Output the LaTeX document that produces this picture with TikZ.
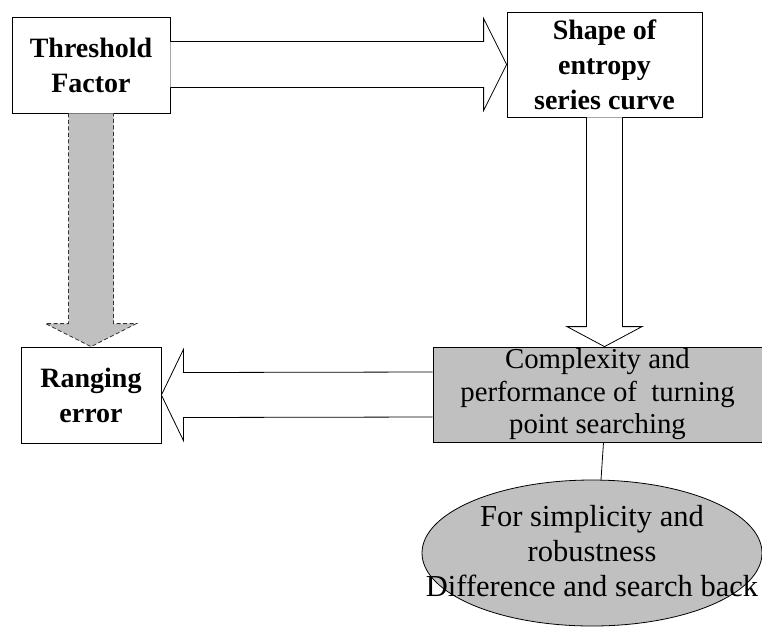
\documentclass[tikz,border=0pt]{standalone}
\usepackage{fontspec}
\setmainfont{Liberation Serif}
\usetikzlibrary{calc, shapes.geometric}
\definecolor{boxgray}{RGB}{192,192,192}

\begin{document}
\begin{tikzpicture}[
        x=1pt, y=-1pt, % pixel-like units, y grows downwards
        line width=0.8pt,
        box/.style={draw, fill=white, align=center, inner sep=0pt, font=\fontsize{28}{35}\selectfont\bfseries},
        greybox/.style={draw, fill=boxgray, align=center, inner sep=0pt, font=\fontsize{28.8}{32.5}\selectfont},
        fatarrow/.style={draw, fill=white, line join=miter},
        dasharrow/.style={draw=black!80, dash pattern=on 4pt off 2.5pt, fill=boxgray}
      ]
      \useasboundingbox (0,0) rectangle (762,633);

      % Nodes
      \node (thr) [box, minimum width=158pt, minimum height=96pt] at (91,65) {Threshold\\Factor};
      \node (shape) [box, minimum width=195pt, minimum height=105pt] at (604.5,64.5) {Shape of\\entropy\\series curve};
      \node (rng) [box, minimum width=140pt, minimum height=96pt] at (91,395) {Ranging\\error};
      \node (cmp) [greybox, minimum width=329pt, minimum height=95pt] at (597.5,394.5) {Complexity and\\performance of~~turning\\point searching};
      \node (ell) [ellipse, draw, fill=boxgray, minimum width=340pt, minimum height=146pt, inner sep=0pt] at (592,553) {};
      \node (elltext) [align=center, font=\fontsize{30.5}{35}\selectfont] at (592,551) {For simplicity and\\robustness\\Difference and search back};

      % Arrows
      \draw[fatarrow] ($(thr.east |- shape.west)+(0,-23)$) -- ($(shape.west)+(-23,-23)$) -- ($(shape.west)+(-23,-46)$) -- (shape.west)
        -- ($(shape.west)+(-23,46)$) -- ($(shape.west)+(-23,23)$) -- ($(thr.east |- shape.west)+(0,23)$);
      \coordinate (tipd) at (shape.south |- cmp.north);
      \draw[fatarrow] ($(shape.south)+(-18,0)$) -- ($(tipd)+(-18,-20)$) -- ($(tipd)+(-37.5,-20)$) -- (tipd)
        -- ($(tipd)+(37.5,-20)$) -- ($(tipd)+(18,-20)$) -- ($(shape.south)+(18,0)$);
      \draw[fatarrow] ($(cmp.west)+(0,-22.5)$) -- ($(rng.east)+(22,-22.5)$) -- ($(rng.east)+(22,-45.5)$) -- (rng.east)
        -- ($(rng.east)+(22,45.5)$) -- ($(rng.east)+(22,22.5)$) -- ($(cmp.west)+(0,22.5)$);
      \draw[dasharrow] ($(thr.south)+(-22.5,0)$) -- ($(rng.north)+(-22.5,-23)$) -- ($(rng.north)+(-45.5,-23)$) -- (rng.north)
        -- ($(rng.north)+(45.5,-23)$) -- ($(rng.north)+(22.5,-23)$) -- ($(thr.south)+(22.5,0)$);
      \draw ($(cmp.south)+(6,0)$) -- ($(ell.north)+(9,0)$);

    \end{tikzpicture}
\end{document}
